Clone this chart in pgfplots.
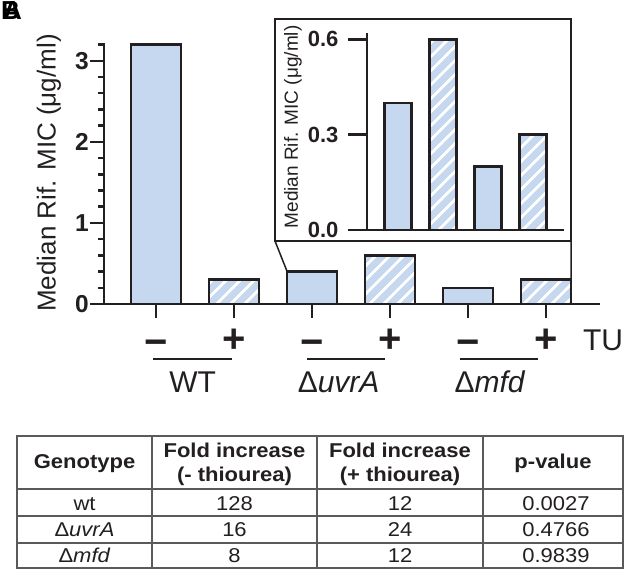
\documentclass[border=0pt]{standalone}
\usepackage{fontspec}
\setmainfont{Liberation Sans}
\newfontfamily\tabfont[FakeStretch=1.1]{Liberation Sans}
\usepackage{pgfplots}
\pgfplotsset{compat=1.18}
\usetikzlibrary{patterns.meta}
\definecolor{barblue}{HTML}{C6D8F0}
\definecolor{axc}{HTML}{231F20}
\definecolor{tabline}{HTML}{5A5A5A}
\begin{document}
\begin{tikzpicture}
\useasboundingbox (0,0) rectangle (635pt,572pt);
% panel letters (overlapping)
\node[font=\bfseries\fontsize{26}{28}\selectfont, inner sep=0, anchor=north west] at (3pt,571pt) {A};
\node[font=\bfseries\fontsize{26}{28}\selectfont, inner sep=0, anchor=north west] at (1pt,571pt) {B};
\tikzset{sg/.style={anchor=base, font=\bfseries\fontsize{40}{42}\selectfont, text=axc, inner sep=0},
         gl/.style={anchor=base, font=\fontsize{30}{32}\selectfont, text=axc, inner sep=0},
         tl/.style={anchor=east, inner sep=0, xshift=-15pt, font=\bfseries\fontsize{24.5}{26}\selectfont, text=axc}}

% ---------------- main axis ----------------
\begin{axis}[
  at={(104pt,268pt)}, anchor=south west,
  scale only axis, width=496pt, height=261pt,
  xmin=0.333, xmax=6.69, ymin=0, ymax=3.22,
  axis x line=bottom, axis y line=left,
  axis line style={-, line width=2.5pt, draw=axc},
  xtick={1,2,3,4,5,6}, xticklabels={},
  ytick={0,1,2,3}, yticklabels={},
  minor ytick={0.2,0.4,0.6,0.8,1.2,1.4,1.6,1.8,2.2,2.4,2.6,2.8,3.2},
  tick align=outside, major tick length=14pt, minor tick length=6pt,
  every tick/.style={line width=2.5pt, draw=axc},
  ylabel={Median Rif. MIC (μg/ml)},
  every axis y label/.style={at={(axis description cs:-0.111,0.502)}, rotate=90, anchor=center, font=\fontsize{26}{28}\selectfont, text=axc},
  clip=false,
]
\addplot[ybar, bar shift=0pt, bar width=0.64, draw=axc, line width=2.5pt, fill=barblue]
  coordinates {(1,3.2) (3,0.4) (5,0.2)};
\addplot[ybar, bar shift=0pt, bar width=0.64, draw=axc, line width=2.5pt,
  preaction={fill=barblue}, pattern={Lines[angle=45,distance=10.5pt,line width=3pt]}, pattern color=white]
  coordinates {(2,0.3) (4,0.6) (6,0.3)};
\coordinate (c3) at (axis cs:2.68,0.4);
\coordinate (c6) at (axis cs:6.32,0.3);
% y tick labels
\node[tl] at (axis cs:0.333,0) {0};
\node[tl] at (axis cs:0.333,1) {1};
\node[tl] at (axis cs:0.333,2) {2};
\node[tl] at (axis cs:0.333,3) {3};
% treatment signs
\node[sg] at (axis cs:1,-0.64) {−};
\node[sg] at (axis cs:2,-0.593) {+};
\node[sg] at (axis cs:3,-0.64) {−};
\node[sg] at (axis cs:4,-0.593) {+};
\node[sg] at (axis cs:5,-0.64) {−};
\node[sg] at (axis cs:6,-0.593) {+};
\node[gl, anchor=base west] at (axis cs:6.47,-0.568) {TU};
% group lines
\draw[line width=2.5pt, axc] (axis cs:0.96,-0.679) -- (axis cs:1.97,-0.679);
\draw[line width=2.5pt, axc] (axis cs:2.94,-0.679) -- (axis cs:3.94,-0.679);
\draw[line width=2.5pt, axc] (axis cs:4.90,-0.679) -- (axis cs:5.90,-0.679);
\node[gl] at (axis cs:1.47,-1.086) {WT};
\node[gl] at (axis cs:3.34,-1.086) {Δ\textit{uvrA}};
\node[gl] at (axis cs:5.28,-1.086) {Δ\textit{mfd}};
\end{axis}

% ---------------- inset ----------------
\draw[line width=2pt, axc] (275pt,331pt) rectangle (571pt,553pt);
\draw[line width=1.5pt, axc] (275pt,331pt) -- (c3);
\draw[line width=1.5pt, axc] (571pt,331pt) -- (c6);

\begin{axis}[
  at={(367pt,342pt)}, anchor=south west,
  scale only axis, width=197pt, height=197pt,
  xmin=0.31, xmax=4.69, ymin=0, ymax=0.62,
  axis x line=bottom, axis y line=left,
  axis line style={-, line width=2.5pt, draw=axc},
  xtick=\empty,
  ytick={0,0.3,0.6}, yticklabels={0.0,0.3,0.6},
  tick align=outside, major tick length=19pt,
  every tick/.style={line width=2.5pt, draw=axc},
  yticklabel style={font=\bfseries\fontsize{22}{24}\selectfont, text=axc, xshift=-6pt},
  ylabel={Median Rif. MIC (μg/ml)},
  every axis y label/.style={at={(axis description cs:-0.376,0.523)}, rotate=90, anchor=center, font=\fontsize{19}{21}\selectfont, text=axc},
  clip=false,
]
\addplot[ybar, bar shift=0pt, bar width=0.6, draw=axc, line width=2.5pt, fill=barblue]
  coordinates {(1,0.4) (3,0.2)};
\addplot[ybar, bar shift=0pt, bar width=0.6, draw=axc, line width=2.5pt,
  preaction={fill=barblue}, pattern={Lines[angle=45,distance=10.5pt,line width=3pt]}, pattern color=white]
  coordinates {(2,0.6) (4,0.3)};
\end{axis}

% ---------------- table ----------------
\draw[line width=1.5pt, tabline] (17pt,4pt) rectangle (623pt,136pt);
\draw[line width=1.5pt, tabline] (17pt,83pt) -- (623pt,83pt);
\draw[line width=1.5pt, tabline] (17pt,56pt) -- (623pt,56pt);
\draw[line width=1.5pt, tabline] (17pt,29pt) -- (623pt,29pt);
\draw[line width=1.5pt, tabline] (152pt,4pt) -- (152pt,136pt);
\draw[line width=1.5pt, tabline] (317pt,4pt) -- (317pt,136pt);
\draw[line width=1.5pt, tabline] (483pt,4pt) -- (483pt,136pt);
\tikzset{hd/.style={anchor=base, inner sep=0, font=\tabfont\bfseries\fontsize{20}{22}\selectfont, text=axc},
         bd/.style={anchor=base, inner sep=0, font=\tabfont\fontsize{20}{22}\selectfont, text=axc}}
\node[hd] at (84.5pt,103pt) {Genotype};
\node[hd] at (234.5pt,114pt) {Fold increase};
\node[hd] at (234.5pt,90pt) {(- thiourea)};
\node[hd] at (400pt,114pt) {Fold increase};
\node[hd] at (400pt,90pt) {(+ thiourea)};
\node[hd] at (553pt,103pt) {p-value};
\node[bd] at (84.5pt,61pt) {wt};
\node[bd] at (84.5pt,35pt) {Δ\textit{uvrA}};
\node[bd] at (84.5pt,9pt) {Δ\textit{mfd}};
\node[bd] at (234.5pt,61pt) {128};
\node[bd] at (234.5pt,35pt) {16};
\node[bd] at (234.5pt,9pt) {8};
\node[bd] at (400pt,61pt) {12};
\node[bd] at (400pt,35pt) {24};
\node[bd] at (400pt,9pt) {12};
\node[bd] at (556pt,61pt) {0.0027};
\node[bd] at (556pt,35pt) {0.4766};
\node[bd] at (556pt,9pt) {0.9839};
\end{tikzpicture}
\end{document}
